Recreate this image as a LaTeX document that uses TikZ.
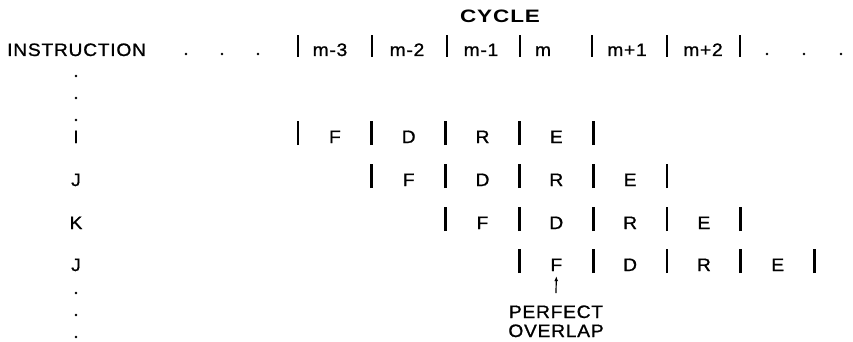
\documentclass[tikz,border=0pt]{standalone}
\usepackage{fontspec}
\setmainfont{Liberation Sans}[FakeStretch=1.07,LetterSpace=4,FakeBold=1]
\newfontfamily\cyclefont{Liberation Sans Bold}[FakeStretch=1.25,LetterSpace=5]
\usetikzlibrary{arrows.meta}
\begin{document}
\begin{tikzpicture}[x=1pt,y=-1pt,
  txt/.style={inner sep=0pt, anchor=base, font=\fontsize{18}{19}\selectfont},
  bar/.style={line width=2.8pt},
  dotm/.style={fill, circle, inner sep=0pt, minimum size=2.8pt},
  pointer/.style={-{Latex[length=5pt,width=4pt]}, line width=1.2pt}]
\useasboundingbox (0,0) rectangle (853,342);
% title and header
\node[txt, font=\cyclefont\fontsize{18}{19}\selectfont] (cycle) at (500,22.5) {CYCLE};
\node[txt, anchor=base west] (instr) at (7,56) {INSTRUCTION};
\foreach \x [count=\i] in {186,222,258,767,804,841}
  \node[dotm] (hd\i) at (\x,54) {};
\foreach \x in {298,372,447,520,592,667,740}
  \draw[bar] (\x,57) -- ++(0,-22);
\foreach \x/\t [count=\i] in {330/m-3,407/m-2,481/m-1,543/m,627/m+1,703/m+2}
  \node[txt] (hl\i) at (\x,56) {\t};
% vertical ellipses
\foreach \y [count=\i] in {76,98,120}
  \node[dotm] (vt\i) at (76,\y) {};
\foreach \y [count=\i] in {293,315,337}
  \node[dotm] (vb\i) at (76,\y) {};
% rows
\foreach \r/\b/\s/\lab in {1/143/0/I, 2/186/1/J, 3/229/2/K, 4/271/3/J} {
  \node[txt] (lab\r) at (76,\b) {\lab};
  \foreach \k [count=\i from 0] in {F,D,R,E} {
    \pgfmathsetmacro\xx{298+73.8*(\s+\i)+36.9}
    \node[txt] (c\r\k) at (\xx,\b) {\k};
  }
  \foreach \i in {0,...,4}
    \draw[bar] ({298+73.8*(\s+\i)},{\b+2}) -- ++(0,-24);
}
% perfect overlap
\node[txt] (p1) at (556,318) {PERFECT};
\node[txt] (p2) at (556,337) {OVERLAP};
\draw[pointer] ([yshift=12pt]p1.north) -- ([yshift=-5pt]c4F.south);
\end{tikzpicture}
\end{document}
